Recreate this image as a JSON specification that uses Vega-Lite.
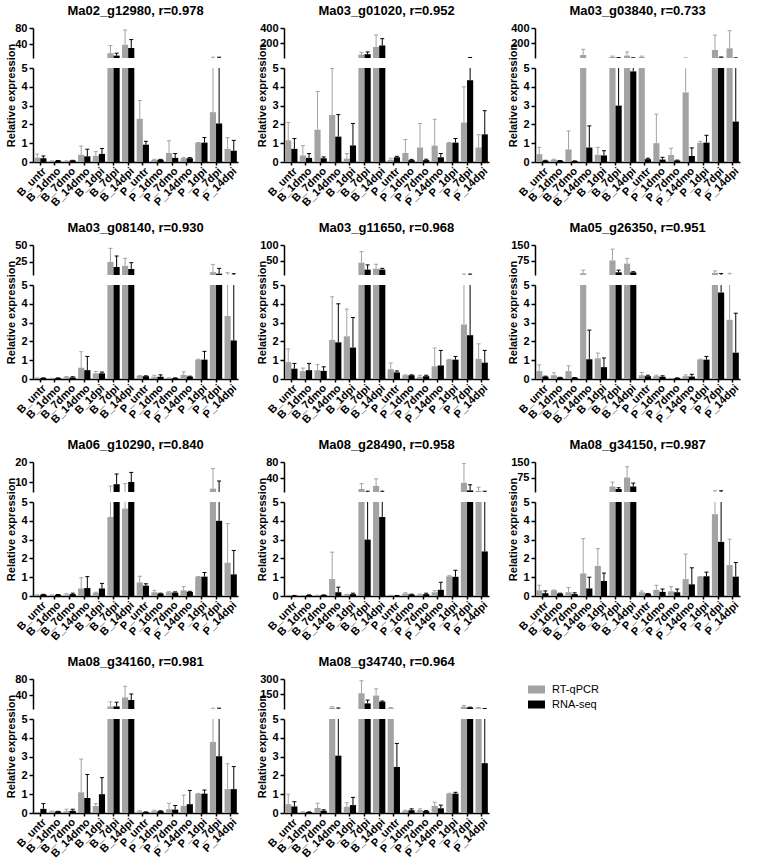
{
"$schema":"https://vega.github.io/schema/vega-lite/v6.json",
"padding":{"left":5,"top":5,"right":5,"bottom":2},
"background":"white",
"columns":3,
"spacing":{"row":14,"column":18},
"datasets":{"d":[
{"gene":"Ma02_g12980","cond":"B_untr","method":"RT-qPCR","mean":0.23,"hi":0.42},{"gene":"Ma02_g12980","cond":"B_untr","method":"RNA-seq","mean":0.2,"hi":0.32},
{"gene":"Ma02_g12980","cond":"B_1dmo","method":"RT-qPCR","mean":0.05,"hi":0.06},{"gene":"Ma02_g12980","cond":"B_1dmo","method":"RNA-seq","mean":0.07,"hi":0.08},
{"gene":"Ma02_g12980","cond":"B_7dmo","method":"RT-qPCR","mean":0.05,"hi":0.06},{"gene":"Ma02_g12980","cond":"B_7dmo","method":"RNA-seq","mean":0.08,"hi":0.09},
{"gene":"Ma02_g12980","cond":"B_14dmo","method":"RT-qPCR","mean":0.38,"hi":0.85},{"gene":"Ma02_g12980","cond":"B_14dmo","method":"RNA-seq","mean":0.3,"hi":0.68},
{"gene":"Ma02_g12980","cond":"B_1dpi","method":"RT-qPCR","mean":0.33,"hi":0.55},{"gene":"Ma02_g12980","cond":"B_1dpi","method":"RNA-seq","mean":0.43,"hi":0.72},
{"gene":"Ma02_g12980","cond":"B_7dpi","method":"RT-qPCR","mean":17,"hi":36},{"gene":"Ma02_g12980","cond":"B_7dpi","method":"RNA-seq","mean":11,"hi":17},
{"gene":"Ma02_g12980","cond":"B_14dpi","method":"RT-qPCR","mean":38,"hi":75},{"gene":"Ma02_g12980","cond":"B_14dpi","method":"RNA-seq","mean":30,"hi":51},
{"gene":"Ma02_g12980","cond":"P_untr","method":"RT-qPCR","mean":2.3,"hi":3.27},{"gene":"Ma02_g12980","cond":"P_untr","method":"RNA-seq","mean":0.92,"hi":1.1},
{"gene":"Ma02_g12980","cond":"P_1dmo","method":"RT-qPCR","mean":0.12,"hi":0.15},{"gene":"Ma02_g12980","cond":"P_1dmo","method":"RNA-seq","mean":0.12,"hi":0.14},
{"gene":"Ma02_g12980","cond":"P_7dmo","method":"RT-qPCR","mean":0.48,"hi":1.13},{"gene":"Ma02_g12980","cond":"P_7dmo","method":"RNA-seq","mean":0.22,"hi":0.45},
{"gene":"Ma02_g12980","cond":"P_14dmo","method":"RT-qPCR","mean":0.2,"hi":0.23},{"gene":"Ma02_g12980","cond":"P_14dmo","method":"RNA-seq","mean":0.2,"hi":0.23},
{"gene":"Ma02_g12980","cond":"P_1dpi","method":"RT-qPCR","mean":1.02,"hi":1.04},{"gene":"Ma02_g12980","cond":"P_1dpi","method":"RNA-seq","mean":1.03,"hi":1.3},
{"gene":"Ma02_g12980","cond":"P_7dpi","method":"RT-qPCR","mean":2.65,"hi":7},{"gene":"Ma02_g12980","cond":"P_7dpi","method":"RNA-seq","mean":2.05,"hi":7},
{"gene":"Ma02_g12980","cond":"P_14dpi","method":"RT-qPCR","mean":0.7,"hi":1.3},{"gene":"Ma02_g12980","cond":"P_14dpi","method":"RNA-seq","mean":0.6,"hi":1.15},
{"gene":"Ma03_g01020","cond":"B_untr","method":"RT-qPCR","mean":1.15,"hi":2.1},{"gene":"Ma03_g01020","cond":"B_untr","method":"RNA-seq","mean":0.7,"hi":1.25},
{"gene":"Ma03_g01020","cond":"B_1dmo","method":"RT-qPCR","mean":0.35,"hi":0.87},{"gene":"Ma03_g01020","cond":"B_1dmo","method":"RNA-seq","mean":0.22,"hi":0.45},
{"gene":"Ma03_g01020","cond":"B_7dmo","method":"RT-qPCR","mean":1.72,"hi":3.75},{"gene":"Ma03_g01020","cond":"B_7dmo","method":"RNA-seq","mean":0.2,"hi":0.27},
{"gene":"Ma03_g01020","cond":"B_14dmo","method":"RT-qPCR","mean":2.5,"hi":4.97},{"gene":"Ma03_g01020","cond":"B_14dmo","method":"RNA-seq","mean":1.35,"hi":2.52},
{"gene":"Ma03_g01020","cond":"B_1dpi","method":"RT-qPCR","mean":0.18,"hi":0.45},{"gene":"Ma03_g01020","cond":"B_1dpi","method":"RNA-seq","mean":0.88,"hi":2.05},
{"gene":"Ma03_g01020","cond":"B_7dpi","method":"RT-qPCR","mean":50,"hi":80},{"gene":"Ma03_g01020","cond":"B_7dpi","method":"RNA-seq","mean":55,"hi":85},
{"gene":"Ma03_g01020","cond":"B_14dpi","method":"RT-qPCR","mean":150,"hi":310},{"gene":"Ma03_g01020","cond":"B_14dpi","method":"RNA-seq","mean":170,"hi":260},
{"gene":"Ma03_g01020","cond":"P_untr","method":"RT-qPCR","mean":0.12,"hi":0.2},{"gene":"Ma03_g01020","cond":"P_untr","method":"RNA-seq","mean":0.25,"hi":0.3},
{"gene":"Ma03_g01020","cond":"P_1dmo","method":"RT-qPCR","mean":0.48,"hi":1.2},{"gene":"Ma03_g01020","cond":"P_1dmo","method":"RNA-seq","mean":0.1,"hi":0.14},
{"gene":"Ma03_g01020","cond":"P_7dmo","method":"RT-qPCR","mean":0.77,"hi":2.05},{"gene":"Ma03_g01020","cond":"P_7dmo","method":"RNA-seq","mean":0.1,"hi":0.15},
{"gene":"Ma03_g01020","cond":"P_14dmo","method":"RT-qPCR","mean":0.87,"hi":2.27},{"gene":"Ma03_g01020","cond":"P_14dmo","method":"RNA-seq","mean":0.25,"hi":0.45},
{"gene":"Ma03_g01020","cond":"P_1dpi","method":"RT-qPCR","mean":1.02,"hi":1.04},{"gene":"Ma03_g01020","cond":"P_1dpi","method":"RNA-seq","mean":1.03,"hi":1.25},
{"gene":"Ma03_g01020","cond":"P_7dpi","method":"RT-qPCR","mean":2.1,"hi":4.0},{"gene":"Ma03_g01020","cond":"P_7dpi","method":"RNA-seq","mean":4.35,"hi":12},
{"gene":"Ma03_g01020","cond":"P_14dpi","method":"RT-qPCR","mean":0.77,"hi":1.45},{"gene":"Ma03_g01020","cond":"P_14dpi","method":"RNA-seq","mean":1.47,"hi":2.73},
{"gene":"Ma03_g03840","cond":"B_untr","method":"RT-qPCR","mean":0.42,"hi":0.78},{"gene":"Ma03_g03840","cond":"B_untr","method":"RNA-seq","mean":0.07,"hi":0.09},
{"gene":"Ma03_g03840","cond":"B_1dmo","method":"RT-qPCR","mean":0.12,"hi":0.15},{"gene":"Ma03_g03840","cond":"B_1dmo","method":"RNA-seq","mean":0.07,"hi":0.08},
{"gene":"Ma03_g03840","cond":"B_7dmo","method":"RT-qPCR","mean":0.67,"hi":1.65},{"gene":"Ma03_g03840","cond":"B_7dmo","method":"RNA-seq","mean":0.05,"hi":0.06},
{"gene":"Ma03_g03840","cond":"B_14dmo","method":"RT-qPCR","mean":45,"hi":120},{"gene":"Ma03_g03840","cond":"B_14dmo","method":"RNA-seq","mean":0.77,"hi":1.92},
{"gene":"Ma03_g03840","cond":"B_1dpi","method":"RT-qPCR","mean":0.38,"hi":0.78},{"gene":"Ma03_g03840","cond":"B_1dpi","method":"RNA-seq","mean":0.35,"hi":0.6},
{"gene":"Ma03_g03840","cond":"B_7dpi","method":"RT-qPCR","mean":18,"hi":30},{"gene":"Ma03_g03840","cond":"B_7dpi","method":"RNA-seq","mean":3.0,"hi":10},
{"gene":"Ma03_g03840","cond":"B_14dpi","method":"RT-qPCR","mean":36,"hi":85},{"gene":"Ma03_g03840","cond":"B_14dpi","method":"RNA-seq","mean":4.82,"hi":8},
{"gene":"Ma03_g03840","cond":"P_untr","method":"RT-qPCR","mean":18,"hi":30},{"gene":"Ma03_g03840","cond":"P_untr","method":"RNA-seq","mean":0.15,"hi":0.2},
{"gene":"Ma03_g03840","cond":"P_1dmo","method":"RT-qPCR","mean":1.0,"hi":2.55},{"gene":"Ma03_g03840","cond":"P_1dmo","method":"RNA-seq","mean":0.13,"hi":0.25},
{"gene":"Ma03_g03840","cond":"P_7dmo","method":"RT-qPCR","mean":0.37,"hi":0.73},{"gene":"Ma03_g03840","cond":"P_7dmo","method":"RNA-seq","mean":0.08,"hi":0.1},
{"gene":"Ma03_g03840","cond":"P_14dmo","method":"RT-qPCR","mean":3.7,"hi":8},{"gene":"Ma03_g03840","cond":"P_14dmo","method":"RNA-seq","mean":0.32,"hi":0.75},
{"gene":"Ma03_g03840","cond":"P_1dpi","method":"RT-qPCR","mean":1.02,"hi":1.1},{"gene":"Ma03_g03840","cond":"P_1dpi","method":"RNA-seq","mean":1.03,"hi":1.42},
{"gene":"Ma03_g03840","cond":"P_7dpi","method":"RT-qPCR","mean":111,"hi":307},{"gene":"Ma03_g03840","cond":"P_7dpi","method":"RNA-seq","mean":9,"hi":18},
{"gene":"Ma03_g03840","cond":"P_14dpi","method":"RT-qPCR","mean":133,"hi":364},{"gene":"Ma03_g03840","cond":"P_14dpi","method":"RNA-seq","mean":2.15,"hi":7},
{"gene":"Ma03_g08140","cond":"B_untr","method":"RT-qPCR","mean":0.05,"hi":0.06},{"gene":"Ma03_g08140","cond":"B_untr","method":"RNA-seq","mean":0.05,"hi":0.06},
{"gene":"Ma03_g08140","cond":"B_1dmo","method":"RT-qPCR","mean":0.03,"hi":0.04},{"gene":"Ma03_g08140","cond":"B_1dmo","method":"RNA-seq","mean":0.05,"hi":0.06},
{"gene":"Ma03_g08140","cond":"B_7dmo","method":"RT-qPCR","mean":0.1,"hi":0.13},{"gene":"Ma03_g08140","cond":"B_7dmo","method":"RNA-seq","mean":0.08,"hi":0.12},
{"gene":"Ma03_g08140","cond":"B_14dmo","method":"RT-qPCR","mean":0.6,"hi":1.45},{"gene":"Ma03_g08140","cond":"B_14dmo","method":"RNA-seq","mean":0.47,"hi":1.2},
{"gene":"Ma03_g08140","cond":"B_1dpi","method":"RT-qPCR","mean":0.3,"hi":0.4},{"gene":"Ma03_g08140","cond":"B_1dpi","method":"RNA-seq","mean":0.3,"hi":0.37},
{"gene":"Ma03_g08140","cond":"B_7dpi","method":"RT-qPCR","mean":24.5,"hi":45},{"gene":"Ma03_g08140","cond":"B_7dpi","method":"RNA-seq","mean":17,"hi":33.5},
{"gene":"Ma03_g08140","cond":"B_14dpi","method":"RT-qPCR","mean":18.7,"hi":30},{"gene":"Ma03_g08140","cond":"B_14dpi","method":"RNA-seq","mean":14,"hi":23.5},
{"gene":"Ma03_g08140","cond":"P_untr","method":"RT-qPCR","mean":0.17,"hi":0.19},{"gene":"Ma03_g08140","cond":"P_untr","method":"RNA-seq","mean":0.15,"hi":0.17},
{"gene":"Ma03_g08140","cond":"P_1dmo","method":"RT-qPCR","mean":0.12,"hi":0.2},{"gene":"Ma03_g08140","cond":"P_1dmo","method":"RNA-seq","mean":0.12,"hi":0.22},
{"gene":"Ma03_g08140","cond":"P_7dmo","method":"RT-qPCR","mean":0.05,"hi":0.06},{"gene":"Ma03_g08140","cond":"P_7dmo","method":"RNA-seq","mean":0.05,"hi":0.06},
{"gene":"Ma03_g08140","cond":"P_14dmo","method":"RT-qPCR","mean":0.22,"hi":0.38},{"gene":"Ma03_g08140","cond":"P_14dmo","method":"RNA-seq","mean":0.13,"hi":0.15},
{"gene":"Ma03_g08140","cond":"P_1dpi","method":"RT-qPCR","mean":1.03,"hi":1.05},{"gene":"Ma03_g08140","cond":"P_1dpi","method":"RNA-seq","mean":1.03,"hi":1.47},
{"gene":"Ma03_g08140","cond":"P_7dpi","method":"RT-qPCR","mean":9.3,"hi":20.9},{"gene":"Ma03_g08140","cond":"P_7dpi","method":"RNA-seq","mean":7,"hi":15},
{"gene":"Ma03_g08140","cond":"P_14dpi","method":"RT-qPCR","mean":3.35,"hi":8.4},{"gene":"Ma03_g08140","cond":"P_14dpi","method":"RNA-seq","mean":2.05,"hi":7},
{"gene":"Ma03_g11650","cond":"B_untr","method":"RT-qPCR","mean":0.9,"hi":1.6},{"gene":"Ma03_g11650","cond":"B_untr","method":"RNA-seq","mean":0.55,"hi":0.83},
{"gene":"Ma03_g11650","cond":"B_1dmo","method":"RT-qPCR","mean":0.42,"hi":0.58},{"gene":"Ma03_g11650","cond":"B_1dmo","method":"RNA-seq","mean":0.47,"hi":0.83},
{"gene":"Ma03_g11650","cond":"B_7dmo","method":"RT-qPCR","mean":0.47,"hi":0.78},{"gene":"Ma03_g11650","cond":"B_7dmo","method":"RNA-seq","mean":0.43,"hi":0.65},
{"gene":"Ma03_g11650","cond":"B_14dmo","method":"RT-qPCR","mean":2.08,"hi":4.37},{"gene":"Ma03_g11650","cond":"B_14dmo","method":"RNA-seq","mean":1.95,"hi":4.0},
{"gene":"Ma03_g11650","cond":"B_1dpi","method":"RT-qPCR","mean":2.27,"hi":3.72},{"gene":"Ma03_g11650","cond":"B_1dpi","method":"RNA-seq","mean":1.67,"hi":3.27},
{"gene":"Ma03_g11650","cond":"B_7dpi","method":"RT-qPCR","mean":44,"hi":79},{"gene":"Ma03_g11650","cond":"B_7dpi","method":"RNA-seq","mean":22,"hi":37},
{"gene":"Ma03_g11650","cond":"B_14dpi","method":"RT-qPCR","mean":25,"hi":39},{"gene":"Ma03_g11650","cond":"B_14dpi","method":"RNA-seq","mean":22,"hi":26},
{"gene":"Ma03_g11650","cond":"P_untr","method":"RT-qPCR","mean":0.52,"hi":0.85},{"gene":"Ma03_g11650","cond":"P_untr","method":"RNA-seq","mean":0.35,"hi":0.43},
{"gene":"Ma03_g11650","cond":"P_1dmo","method":"RT-qPCR","mean":0.2,"hi":0.22},{"gene":"Ma03_g11650","cond":"P_1dmo","method":"RNA-seq","mean":0.2,"hi":0.22},
{"gene":"Ma03_g11650","cond":"P_7dmo","method":"RT-qPCR","mean":0.12,"hi":0.2},{"gene":"Ma03_g11650","cond":"P_7dmo","method":"RNA-seq","mean":0.15,"hi":0.2},
{"gene":"Ma03_g11650","cond":"P_14dmo","method":"RT-qPCR","mean":0.68,"hi":1.65},{"gene":"Ma03_g11650","cond":"P_14dmo","method":"RNA-seq","mean":0.72,"hi":1.52},
{"gene":"Ma03_g11650","cond":"P_1dpi","method":"RT-qPCR","mean":1.03,"hi":1.05},{"gene":"Ma03_g11650","cond":"P_1dpi","method":"RNA-seq","mean":1.03,"hi":1.2},
{"gene":"Ma03_g11650","cond":"P_7dpi","method":"RT-qPCR","mean":2.9,"hi":8},{"gene":"Ma03_g11650","cond":"P_7dpi","method":"RNA-seq","mean":2.33,"hi":8},
{"gene":"Ma03_g11650","cond":"P_14dpi","method":"RT-qPCR","mean":1.07,"hi":1.87},{"gene":"Ma03_g11650","cond":"P_14dpi","method":"RNA-seq","mean":0.87,"hi":1.52},
{"gene":"Ma05_g26350","cond":"B_untr","method":"RT-qPCR","mean":0.42,"hi":0.75},{"gene":"Ma05_g26350","cond":"B_untr","method":"RNA-seq","mean":0.13,"hi":0.15},
{"gene":"Ma05_g26350","cond":"B_1dmo","method":"RT-qPCR","mean":0.2,"hi":0.33},{"gene":"Ma05_g26350","cond":"B_1dmo","method":"RNA-seq","mean":0.08,"hi":0.09},
{"gene":"Ma05_g26350","cond":"B_7dmo","method":"RT-qPCR","mean":0.42,"hi":0.7},{"gene":"Ma05_g26350","cond":"B_7dmo","method":"RNA-seq","mean":0.07,"hi":0.08},
{"gene":"Ma05_g26350","cond":"B_14dmo","method":"RT-qPCR","mean":13.5,"hi":28.5},{"gene":"Ma05_g26350","cond":"B_14dmo","method":"RNA-seq","mean":1.05,"hi":2.6},
{"gene":"Ma05_g26350","cond":"B_1dpi","method":"RT-qPCR","mean":1.1,"hi":1.38},{"gene":"Ma05_g26350","cond":"B_1dpi","method":"RNA-seq","mean":0.63,"hi":1.12},
{"gene":"Ma05_g26350","cond":"B_7dpi","method":"RT-qPCR","mean":75,"hi":130},{"gene":"Ma05_g26350","cond":"B_7dpi","method":"RNA-seq","mean":18,"hi":28.5},
{"gene":"Ma05_g26350","cond":"B_14dpi","method":"RT-qPCR","mean":60,"hi":85},{"gene":"Ma05_g26350","cond":"B_14dpi","method":"RNA-seq","mean":18,"hi":21},
{"gene":"Ma05_g26350","cond":"P_untr","method":"RT-qPCR","mean":0.2,"hi":0.35},{"gene":"Ma05_g26350","cond":"P_untr","method":"RNA-seq","mean":0.15,"hi":0.2},
{"gene":"Ma05_g26350","cond":"P_1dmo","method":"RT-qPCR","mean":0.15,"hi":0.2},{"gene":"Ma05_g26350","cond":"P_1dmo","method":"RNA-seq","mean":0.12,"hi":0.17},
{"gene":"Ma05_g26350","cond":"P_7dmo","method":"RT-qPCR","mean":0.02,"hi":0.03},{"gene":"Ma05_g26350","cond":"P_7dmo","method":"RNA-seq","mean":0.05,"hi":0.06},
{"gene":"Ma05_g26350","cond":"P_14dmo","method":"RT-qPCR","mean":0.15,"hi":0.22},{"gene":"Ma05_g26350","cond":"P_14dmo","method":"RNA-seq","mean":0.13,"hi":0.25},
{"gene":"Ma05_g26350","cond":"P_1dpi","method":"RT-qPCR","mean":1.03,"hi":1.05},{"gene":"Ma05_g26350","cond":"P_1dpi","method":"RNA-seq","mean":1.03,"hi":1.2},
{"gene":"Ma05_g26350","cond":"P_7dpi","method":"RT-qPCR","mean":15,"hi":25},{"gene":"Ma05_g26350","cond":"P_7dpi","method":"RNA-seq","mean":4.6,"hi":12},
{"gene":"Ma05_g26350","cond":"P_14dpi","method":"RT-qPCR","mean":3.15,"hi":13},{"gene":"Ma05_g26350","cond":"P_14dpi","method":"RNA-seq","mean":1.4,"hi":3.5},
{"gene":"Ma06_g10290","cond":"B_untr","method":"RT-qPCR","mean":0.05,"hi":0.06},{"gene":"Ma06_g10290","cond":"B_untr","method":"RNA-seq","mean":0.08,"hi":0.09},
{"gene":"Ma06_g10290","cond":"B_1dmo","method":"RT-qPCR","mean":0.05,"hi":0.06},{"gene":"Ma06_g10290","cond":"B_1dmo","method":"RNA-seq","mean":0.07,"hi":0.08},
{"gene":"Ma06_g10290","cond":"B_7dmo","method":"RT-qPCR","mean":0.08,"hi":0.12},{"gene":"Ma06_g10290","cond":"B_7dmo","method":"RNA-seq","mean":0.1,"hi":0.15},
{"gene":"Ma06_g10290","cond":"B_14dmo","method":"RT-qPCR","mean":0.4,"hi":0.97},{"gene":"Ma06_g10290","cond":"B_14dmo","method":"RNA-seq","mean":0.42,"hi":1.03},
{"gene":"Ma06_g10290","cond":"B_1dpi","method":"RT-qPCR","mean":0.17,"hi":0.2},{"gene":"Ma06_g10290","cond":"B_1dpi","method":"RNA-seq","mean":0.4,"hi":0.67},
{"gene":"Ma06_g10290","cond":"B_7dpi","method":"RT-qPCR","mean":4.2,"hi":8},{"gene":"Ma06_g10290","cond":"B_7dpi","method":"RNA-seq","mean":8.9,"hi":14},
{"gene":"Ma06_g10290","cond":"B_14dpi","method":"RT-qPCR","mean":4.65,"hi":9.2},{"gene":"Ma06_g10290","cond":"B_14dpi","method":"RNA-seq","mean":10,"hi":14.8},
{"gene":"Ma06_g10290","cond":"P_untr","method":"RT-qPCR","mean":0.72,"hi":1.05},{"gene":"Ma06_g10290","cond":"P_untr","method":"RNA-seq","mean":0.55,"hi":0.65},
{"gene":"Ma06_g10290","cond":"P_1dmo","method":"RT-qPCR","mean":0.2,"hi":0.3},{"gene":"Ma06_g10290","cond":"P_1dmo","method":"RNA-seq","mean":0.13,"hi":0.15},
{"gene":"Ma06_g10290","cond":"P_7dmo","method":"RT-qPCR","mean":0.2,"hi":0.23},{"gene":"Ma06_g10290","cond":"P_7dmo","method":"RNA-seq","mean":0.18,"hi":0.22},
{"gene":"Ma06_g10290","cond":"P_14dmo","method":"RT-qPCR","mean":0.3,"hi":0.5},{"gene":"Ma06_g10290","cond":"P_14dmo","method":"RNA-seq","mean":0.22,"hi":0.25},
{"gene":"Ma06_g10290","cond":"P_1dpi","method":"RT-qPCR","mean":1.02,"hi":1.04},{"gene":"Ma06_g10290","cond":"P_1dpi","method":"RNA-seq","mean":1.03,"hi":1.25},
{"gene":"Ma06_g10290","cond":"P_7dpi","method":"RT-qPCR","mean":6.7,"hi":16.7},{"gene":"Ma06_g10290","cond":"P_7dpi","method":"RNA-seq","mean":4.0,"hi":10.5},
{"gene":"Ma06_g10290","cond":"P_14dpi","method":"RT-qPCR","mean":1.77,"hi":3.85},{"gene":"Ma06_g10290","cond":"P_14dpi","method":"RNA-seq","mean":1.15,"hi":2.42},
{"gene":"Ma08_g28490","cond":"B_untr","method":"RT-qPCR","mean":0.02,"hi":0.03},{"gene":"Ma08_g28490","cond":"B_untr","method":"RNA-seq","mean":0.02,"hi":0.03},
{"gene":"Ma08_g28490","cond":"B_1dmo","method":"RT-qPCR","mean":0.02,"hi":0.03},{"gene":"Ma08_g28490","cond":"B_1dmo","method":"RNA-seq","mean":0.05,"hi":0.06},
{"gene":"Ma08_g28490","cond":"B_7dmo","method":"RT-qPCR","mean":0.03,"hi":0.04},{"gene":"Ma08_g28490","cond":"B_7dmo","method":"RNA-seq","mean":0.05,"hi":0.06},
{"gene":"Ma08_g28490","cond":"B_14dmo","method":"RT-qPCR","mean":0.9,"hi":2.33},{"gene":"Ma08_g28490","cond":"B_14dmo","method":"RNA-seq","mean":0.2,"hi":0.47},
{"gene":"Ma08_g28490","cond":"B_1dpi","method":"RT-qPCR","mean":0.08,"hi":0.09},{"gene":"Ma08_g28490","cond":"B_1dpi","method":"RNA-seq","mean":0.1,"hi":0.15},
{"gene":"Ma08_g28490","cond":"B_7dpi","method":"RT-qPCR","mean":12.5,"hi":26},{"gene":"Ma08_g28490","cond":"B_7dpi","method":"RNA-seq","mean":3.0,"hi":7},
{"gene":"Ma08_g28490","cond":"B_14dpi","method":"RT-qPCR","mean":20,"hi":38},{"gene":"Ma08_g28490","cond":"B_14dpi","method":"RNA-seq","mean":4.2,"hi":7},
{"gene":"Ma08_g28490","cond":"P_untr","method":"RT-qPCR","mean":0.03,"hi":0.04},{"gene":"Ma08_g28490","cond":"P_untr","method":"RNA-seq","mean":0.02,"hi":0.03},
{"gene":"Ma08_g28490","cond":"P_1dmo","method":"RT-qPCR","mean":0.13,"hi":0.17},{"gene":"Ma08_g28490","cond":"P_1dmo","method":"RNA-seq","mean":0.08,"hi":0.1},
{"gene":"Ma08_g28490","cond":"P_7dmo","method":"RT-qPCR","mean":0.08,"hi":0.1},{"gene":"Ma08_g28490","cond":"P_7dmo","method":"RNA-seq","mean":0.1,"hi":0.15},
{"gene":"Ma08_g28490","cond":"P_14dmo","method":"RT-qPCR","mean":0.2,"hi":0.28},{"gene":"Ma08_g28490","cond":"P_14dmo","method":"RNA-seq","mean":0.33,"hi":0.73},
{"gene":"Ma08_g28490","cond":"P_1dpi","method":"RT-qPCR","mean":1.05,"hi":1.08},{"gene":"Ma08_g28490","cond":"P_1dpi","method":"RNA-seq","mean":1.02,"hi":1.37},
{"gene":"Ma08_g28490","cond":"P_7dpi","method":"RT-qPCR","mean":28,"hi":76},{"gene":"Ma08_g28490","cond":"P_7dpi","method":"RNA-seq","mean":9,"hi":23},
{"gene":"Ma08_g28490","cond":"P_14dpi","method":"RT-qPCR","mean":7.5,"hi":17},{"gene":"Ma08_g28490","cond":"P_14dpi","method":"RNA-seq","mean":2.37,"hi":7},
{"gene":"Ma08_g34150","cond":"B_untr","method":"RT-qPCR","mean":0.3,"hi":0.57},{"gene":"Ma08_g34150","cond":"B_untr","method":"RNA-seq","mean":0.15,"hi":0.27},
{"gene":"Ma08_g34150","cond":"B_1dmo","method":"RT-qPCR","mean":0.3,"hi":0.32},{"gene":"Ma08_g34150","cond":"B_1dmo","method":"RNA-seq","mean":0.13,"hi":0.15},
{"gene":"Ma08_g34150","cond":"B_7dmo","method":"RT-qPCR","mean":0.2,"hi":0.45},{"gene":"Ma08_g34150","cond":"B_7dmo","method":"RNA-seq","mean":0.1,"hi":0.17},
{"gene":"Ma08_g34150","cond":"B_14dmo","method":"RT-qPCR","mean":1.2,"hi":3.05},{"gene":"Ma08_g34150","cond":"B_14dmo","method":"RNA-seq","mean":0.4,"hi":1.0},
{"gene":"Ma08_g34150","cond":"B_1dpi","method":"RT-qPCR","mean":1.6,"hi":2.52},{"gene":"Ma08_g34150","cond":"B_1dpi","method":"RNA-seq","mean":0.8,"hi":1.22},
{"gene":"Ma08_g34150","cond":"B_7dpi","method":"RT-qPCR","mean":31.5,"hi":52.5},{"gene":"Ma08_g34150","cond":"B_7dpi","method":"RNA-seq","mean":19.5,"hi":25.5},
{"gene":"Ma08_g34150","cond":"B_14dpi","method":"RT-qPCR","mean":75,"hi":127},{"gene":"Ma08_g34150","cond":"B_14dpi","method":"RNA-seq","mean":31.5,"hi":48},
{"gene":"Ma08_g34150","cond":"P_untr","method":"RT-qPCR","mean":0.2,"hi":0.27},{"gene":"Ma08_g34150","cond":"P_untr","method":"RNA-seq","mean":0.12,"hi":0.13},
{"gene":"Ma08_g34150","cond":"P_1dmo","method":"RT-qPCR","mean":0.33,"hi":0.57},{"gene":"Ma08_g34150","cond":"P_1dmo","method":"RNA-seq","mean":0.22,"hi":0.37},
{"gene":"Ma08_g34150","cond":"P_7dmo","method":"RT-qPCR","mean":0.25,"hi":0.5},{"gene":"Ma08_g34150","cond":"P_7dmo","method":"RNA-seq","mean":0.2,"hi":0.37},
{"gene":"Ma08_g34150","cond":"P_14dmo","method":"RT-qPCR","mean":0.9,"hi":2.23},{"gene":"Ma08_g34150","cond":"P_14dmo","method":"RNA-seq","mean":0.62,"hi":1.5},
{"gene":"Ma08_g34150","cond":"P_1dpi","method":"RT-qPCR","mean":1.02,"hi":1.04},{"gene":"Ma08_g34150","cond":"P_1dpi","method":"RNA-seq","mean":1.05,"hi":1.27},
{"gene":"Ma08_g34150","cond":"P_7dpi","method":"RT-qPCR","mean":4.35,"hi":11},{"gene":"Ma08_g34150","cond":"P_7dpi","method":"RNA-seq","mean":2.88,"hi":11},
{"gene":"Ma08_g34150","cond":"P_14dpi","method":"RT-qPCR","mean":1.65,"hi":3.02},{"gene":"Ma08_g34150","cond":"P_14dpi","method":"RNA-seq","mean":1.03,"hi":1.78},
{"gene":"Ma08_g34160","cond":"B_untr","method":"RT-qPCR","mean":0.02,"hi":0.03},{"gene":"Ma08_g34160","cond":"B_untr","method":"RNA-seq","mean":0.22,"hi":0.5},
{"gene":"Ma08_g34160","cond":"B_1dmo","method":"RT-qPCR","mean":0.08,"hi":0.1},{"gene":"Ma08_g34160","cond":"B_1dmo","method":"RNA-seq","mean":0.08,"hi":0.09},
{"gene":"Ma08_g34160","cond":"B_7dmo","method":"RT-qPCR","mean":0.1,"hi":0.2},{"gene":"Ma08_g34160","cond":"B_7dmo","method":"RNA-seq","mean":0.12,"hi":0.2},
{"gene":"Ma08_g34160","cond":"B_14dmo","method":"RT-qPCR","mean":1.1,"hi":2.87},{"gene":"Ma08_g34160","cond":"B_14dmo","method":"RNA-seq","mean":0.8,"hi":2.05},
{"gene":"Ma08_g34160","cond":"B_1dpi","method":"RT-qPCR","mean":0.37,"hi":0.5},{"gene":"Ma08_g34160","cond":"B_1dpi","method":"RNA-seq","mean":1.0,"hi":1.88},
{"gene":"Ma08_g34160","cond":"B_7dpi","method":"RT-qPCR","mean":11.5,"hi":23},{"gene":"Ma08_g34160","cond":"B_7dpi","method":"RNA-seq","mean":11.5,"hi":22},
{"gene":"Ma08_g34160","cond":"B_14dpi","method":"RT-qPCR","mean":34,"hi":62},{"gene":"Ma08_g34160","cond":"B_14dpi","method":"RNA-seq","mean":27.5,"hi":42.5},
{"gene":"Ma08_g34160","cond":"P_untr","method":"RT-qPCR","mean":0.08,"hi":0.12},{"gene":"Ma08_g34160","cond":"P_untr","method":"RNA-seq","mean":0.05,"hi":0.06},
{"gene":"Ma08_g34160","cond":"P_1dmo","method":"RT-qPCR","mean":0.1,"hi":0.15},{"gene":"Ma08_g34160","cond":"P_1dmo","method":"RNA-seq","mean":0.1,"hi":0.12},
{"gene":"Ma08_g34160","cond":"P_7dmo","method":"RT-qPCR","mean":0.2,"hi":0.52},{"gene":"Ma08_g34160","cond":"P_7dmo","method":"RNA-seq","mean":0.18,"hi":0.4},
{"gene":"Ma08_g34160","cond":"P_14dmo","method":"RT-qPCR","mean":0.38,"hi":0.95},{"gene":"Ma08_g34160","cond":"P_14dmo","method":"RNA-seq","mean":0.47,"hi":1.2},
{"gene":"Ma08_g34160","cond":"P_1dpi","method":"RT-qPCR","mean":1.02,"hi":1.04},{"gene":"Ma08_g34160","cond":"P_1dpi","method":"RNA-seq","mean":1.03,"hi":1.22},
{"gene":"Ma08_g34160","cond":"P_7dpi","method":"RT-qPCR","mean":3.78,"hi":7},{"gene":"Ma08_g34160","cond":"P_7dpi","method":"RNA-seq","mean":3.02,"hi":7},
{"gene":"Ma08_g34160","cond":"P_14dpi","method":"RT-qPCR","mean":1.27,"hi":2.62},{"gene":"Ma08_g34160","cond":"P_14dpi","method":"RNA-seq","mean":1.27,"hi":2.47},
{"gene":"Ma08_g34740","cond":"B_untr","method":"RT-qPCR","mean":0.47,"hi":1.0},{"gene":"Ma08_g34740","cond":"B_untr","method":"RNA-seq","mean":0.35,"hi":0.6},
{"gene":"Ma08_g34740","cond":"B_1dmo","method":"RT-qPCR","mean":0.05,"hi":0.06},{"gene":"Ma08_g34740","cond":"B_1dmo","method":"RNA-seq","mean":0.05,"hi":0.06},
{"gene":"Ma08_g34740","cond":"B_7dmo","method":"RT-qPCR","mean":0.27,"hi":0.52},{"gene":"Ma08_g34740","cond":"B_7dmo","method":"RNA-seq","mean":0.12,"hi":0.17},
{"gene":"Ma08_g34740","cond":"B_14dmo","method":"RT-qPCR","mean":17,"hi":27},{"gene":"Ma08_g34740","cond":"B_14dmo","method":"RNA-seq","mean":3.05,"hi":15},
{"gene":"Ma08_g34740","cond":"B_1dpi","method":"RT-qPCR","mean":0.33,"hi":0.55},{"gene":"Ma08_g34740","cond":"B_1dpi","method":"RNA-seq","mean":0.42,"hi":0.83},
{"gene":"Ma08_g34740","cond":"B_7dpi","method":"RT-qPCR","mean":160,"hi":283},{"gene":"Ma08_g34740","cond":"B_7dpi","method":"RNA-seq","mean":60,"hi":93},
{"gene":"Ma08_g34740","cond":"B_14dpi","method":"RT-qPCR","mean":137,"hi":203},{"gene":"Ma08_g34740","cond":"B_14dpi","method":"RNA-seq","mean":77,"hi":83},
{"gene":"Ma08_g34740","cond":"P_untr","method":"RT-qPCR","mean":13,"hi":20},{"gene":"Ma08_g34740","cond":"P_untr","method":"RNA-seq","mean":2.45,"hi":3.7},
{"gene":"Ma08_g34740","cond":"P_1dmo","method":"RT-qPCR","mean":0.12,"hi":0.15},{"gene":"Ma08_g34740","cond":"P_1dmo","method":"RNA-seq","mean":0.15,"hi":0.22},
{"gene":"Ma08_g34740","cond":"P_7dmo","method":"RT-qPCR","mean":0.15,"hi":0.22},{"gene":"Ma08_g34740","cond":"P_7dmo","method":"RNA-seq","mean":0.1,"hi":0.13},
{"gene":"Ma08_g34740","cond":"P_14dmo","method":"RT-qPCR","mean":0.38,"hi":0.57},{"gene":"Ma08_g34740","cond":"P_14dmo","method":"RNA-seq","mean":0.25,"hi":0.42},
{"gene":"Ma08_g34740","cond":"P_1dpi","method":"RT-qPCR","mean":1.03,"hi":1.05},{"gene":"Ma08_g34740","cond":"P_1dpi","method":"RNA-seq","mean":1.03,"hi":1.1},
{"gene":"Ma08_g34740","cond":"P_7dpi","method":"RT-qPCR","mean":27,"hi":40},{"gene":"Ma08_g34740","cond":"P_7dpi","method":"RNA-seq","mean":20,"hi":23},
{"gene":"Ma08_g34740","cond":"P_14dpi","method":"RT-qPCR","mean":13,"hi":20},{"gene":"Ma08_g34740","cond":"P_14dpi","method":"RNA-seq","mean":2.65,"hi":10}
]},
"concat":[
{"vconcat":[
 {"title":"Ma02_g12980, r=0.978","width":205,"height":30,"data":{"name":"d"},"transform":[{"filter":"datum.gene==='Ma02_g12980'"}],
  "encoding":{"x":{"field":"cond","type":"nominal","axis":null,"scale":{"domain":["B_untr","B_1dmo","B_7dmo","B_14dmo","B_1dpi","B_7dpi","B_14dpi","P_untr","P_1dmo","P_7dmo","P_14dmo","P_1dpi","P_7dpi","P_14dpi"],"paddingInner":0.16,"paddingOuter":0.08}},"xOffset":{"field":"method","type":"nominal","scale":{"domain":["RT-qPCR","RNA-seq"]}},"color":{"field":"method","type":"nominal","scale":{"domain":["RT-qPCR","RNA-seq"],"range":["#a3a3a3","#000000"]},"legend":{"orient":"none","legendX":495,"legendY":653,"title":null,"symbolType":"M-1,-0.47H1V0.47H-1Z","symbolSize":289,"labelFontSize":11,"rowPadding":1,"symbolStrokeWidth":0,"symbolOpacity":1,"labelOffset":7}}},
  "layer":[
   {"transform":[{"filter":"datum.mean>5"}],"mark":{"type":"bar","clip":true},"encoding":{"y":{"field":"mean","type":"quantitative","scale":{"domain":[5,80],"nice":false,"zero":false},"axis":{"values":[40,80],"title":null}},"y2":{"datum":0}}},
   {"transform":[{"filter":"datum.hi>5"}],"mark":{"type":"rule","clip":true},"encoding":{"y":{"field":"mean","type":"quantitative"},"y2":{"field":"hi"}}},
   {"transform":[{"filter":"datum.hi>5"}],"mark":{"type":"tick","clip":true,"thickness":1,"size":4,"opacity":1},"encoding":{"y":{"field":"hi","type":"quantitative"}}}]},
 {"width":205,"height":94,"data":{"name":"d"},"transform":[{"filter":"datum.gene==='Ma02_g12980'"}],
  "encoding":{"x":{"field":"cond","type":"nominal","axis":{"title":null,"labelAngle":-45},"scale":{"domain":["B_untr","B_1dmo","B_7dmo","B_14dmo","B_1dpi","B_7dpi","B_14dpi","P_untr","P_1dmo","P_7dmo","P_14dmo","P_1dpi","P_7dpi","P_14dpi"],"paddingInner":0.16,"paddingOuter":0.08}},"xOffset":{"field":"method","type":"nominal","scale":{"domain":["RT-qPCR","RNA-seq"]}},"color":{"field":"method","type":"nominal","scale":{"domain":["RT-qPCR","RNA-seq"],"range":["#a3a3a3","#000000"]}}},
  "layer":[
   {"mark":{"type":"bar","clip":true},"encoding":{"y":{"field":"mean","type":"quantitative","scale":{"domain":[0,5],"nice":false},"axis":{"values":[0,1,2,3,4,5],"tickCount":6,"labelOverlap":false,"title":"Relative expression","titleY":27}},"y2":{"datum":0}}},
   {"mark":{"type":"rule","clip":true},"encoding":{"y":{"field":"mean","type":"quantitative","axis":{"values":[0,1,2,3,4,5],"tickCount":6,"labelOverlap":false,"title":"Relative expression","titleY":27}},"y2":{"field":"hi"}}},
   {"mark":{"type":"tick","clip":true,"thickness":1,"size":4,"opacity":1},"encoding":{"y":{"field":"hi","type":"quantitative","axis":{"values":[0,1,2,3,4,5],"tickCount":6,"labelOverlap":false,"title":"Relative expression","titleY":27}}}}]}
 ],"spacing":10,"bounds":"flush"},
{"vconcat":[
 {"title":"Ma03_g01020, r=0.952","width":205,"height":30,"data":{"name":"d"},"transform":[{"filter":"datum.gene==='Ma03_g01020'"}],
  "encoding":{"x":{"field":"cond","type":"nominal","axis":null,"scale":{"domain":["B_untr","B_1dmo","B_7dmo","B_14dmo","B_1dpi","B_7dpi","B_14dpi","P_untr","P_1dmo","P_7dmo","P_14dmo","P_1dpi","P_7dpi","P_14dpi"],"paddingInner":0.16,"paddingOuter":0.08}},"xOffset":{"field":"method","type":"nominal","scale":{"domain":["RT-qPCR","RNA-seq"]}},"color":{"field":"method","type":"nominal","scale":{"domain":["RT-qPCR","RNA-seq"],"range":["#a3a3a3","#000000"]}}},
  "layer":[
   {"transform":[{"filter":"datum.mean>5"}],"mark":{"type":"bar","clip":true},"encoding":{"y":{"field":"mean","type":"quantitative","scale":{"domain":[5,400],"nice":false,"zero":false},"axis":{"values":[200,400],"title":null}},"y2":{"datum":0}}},
   {"transform":[{"filter":"datum.hi>5"}],"mark":{"type":"rule","clip":true},"encoding":{"y":{"field":"mean","type":"quantitative"},"y2":{"field":"hi"}}},
   {"transform":[{"filter":"datum.hi>5"}],"mark":{"type":"tick","clip":true,"thickness":1,"size":4,"opacity":1},"encoding":{"y":{"field":"hi","type":"quantitative"}}}]},
 {"width":205,"height":94,"data":{"name":"d"},"transform":[{"filter":"datum.gene==='Ma03_g01020'"}],
  "encoding":{"x":{"field":"cond","type":"nominal","axis":{"title":null,"labelAngle":-45},"scale":{"domain":["B_untr","B_1dmo","B_7dmo","B_14dmo","B_1dpi","B_7dpi","B_14dpi","P_untr","P_1dmo","P_7dmo","P_14dmo","P_1dpi","P_7dpi","P_14dpi"],"paddingInner":0.16,"paddingOuter":0.08}},"xOffset":{"field":"method","type":"nominal","scale":{"domain":["RT-qPCR","RNA-seq"]}},"color":{"field":"method","type":"nominal","scale":{"domain":["RT-qPCR","RNA-seq"],"range":["#a3a3a3","#000000"]}}},
  "layer":[
   {"mark":{"type":"bar","clip":true},"encoding":{"y":{"field":"mean","type":"quantitative","scale":{"domain":[0,5],"nice":false},"axis":{"values":[0,1,2,3,4,5],"tickCount":6,"labelOverlap":false,"title":"Relative expression","titleY":27}},"y2":{"datum":0}}},
   {"mark":{"type":"rule","clip":true},"encoding":{"y":{"field":"mean","type":"quantitative","axis":{"values":[0,1,2,3,4,5],"tickCount":6,"labelOverlap":false,"title":"Relative expression","titleY":27}},"y2":{"field":"hi"}}},
   {"mark":{"type":"tick","clip":true,"thickness":1,"size":4,"opacity":1},"encoding":{"y":{"field":"hi","type":"quantitative","axis":{"values":[0,1,2,3,4,5],"tickCount":6,"labelOverlap":false,"title":"Relative expression","titleY":27}}}}]}
 ],"spacing":10,"bounds":"flush"},
{"vconcat":[
 {"title":"Ma03_g03840, r=0.733","width":205,"height":30,"data":{"name":"d"},"transform":[{"filter":"datum.gene==='Ma03_g03840'"}],
  "encoding":{"x":{"field":"cond","type":"nominal","axis":null,"scale":{"domain":["B_untr","B_1dmo","B_7dmo","B_14dmo","B_1dpi","B_7dpi","B_14dpi","P_untr","P_1dmo","P_7dmo","P_14dmo","P_1dpi","P_7dpi","P_14dpi"],"paddingInner":0.16,"paddingOuter":0.08}},"xOffset":{"field":"method","type":"nominal","scale":{"domain":["RT-qPCR","RNA-seq"]}},"color":{"field":"method","type":"nominal","scale":{"domain":["RT-qPCR","RNA-seq"],"range":["#a3a3a3","#000000"]}}},
  "layer":[
   {"transform":[{"filter":"datum.mean>5"}],"mark":{"type":"bar","clip":true},"encoding":{"y":{"field":"mean","type":"quantitative","scale":{"domain":[5,400],"nice":false,"zero":false},"axis":{"values":[200,400],"title":null}},"y2":{"datum":0}}},
   {"transform":[{"filter":"datum.hi>5"}],"mark":{"type":"rule","clip":true},"encoding":{"y":{"field":"mean","type":"quantitative"},"y2":{"field":"hi"}}},
   {"transform":[{"filter":"datum.hi>5"}],"mark":{"type":"tick","clip":true,"thickness":1,"size":4,"opacity":1},"encoding":{"y":{"field":"hi","type":"quantitative"}}}]},
 {"width":205,"height":94,"data":{"name":"d"},"transform":[{"filter":"datum.gene==='Ma03_g03840'"}],
  "encoding":{"x":{"field":"cond","type":"nominal","axis":{"title":null,"labelAngle":-45},"scale":{"domain":["B_untr","B_1dmo","B_7dmo","B_14dmo","B_1dpi","B_7dpi","B_14dpi","P_untr","P_1dmo","P_7dmo","P_14dmo","P_1dpi","P_7dpi","P_14dpi"],"paddingInner":0.16,"paddingOuter":0.08}},"xOffset":{"field":"method","type":"nominal","scale":{"domain":["RT-qPCR","RNA-seq"]}},"color":{"field":"method","type":"nominal","scale":{"domain":["RT-qPCR","RNA-seq"],"range":["#a3a3a3","#000000"]}}},
  "layer":[
   {"mark":{"type":"bar","clip":true},"encoding":{"y":{"field":"mean","type":"quantitative","scale":{"domain":[0,5],"nice":false},"axis":{"values":[0,1,2,3,4,5],"tickCount":6,"labelOverlap":false,"title":"Relative expression","titleY":27}},"y2":{"datum":0}}},
   {"mark":{"type":"rule","clip":true},"encoding":{"y":{"field":"mean","type":"quantitative","axis":{"values":[0,1,2,3,4,5],"tickCount":6,"labelOverlap":false,"title":"Relative expression","titleY":27}},"y2":{"field":"hi"}}},
   {"mark":{"type":"tick","clip":true,"thickness":1,"size":4,"opacity":1},"encoding":{"y":{"field":"hi","type":"quantitative","axis":{"values":[0,1,2,3,4,5],"tickCount":6,"labelOverlap":false,"title":"Relative expression","titleY":27}}}}]}
 ],"spacing":10,"bounds":"flush"},
{"vconcat":[
 {"title":"Ma03_g08140, r=0.930","width":205,"height":30,"data":{"name":"d"},"transform":[{"filter":"datum.gene==='Ma03_g08140'"}],
  "encoding":{"x":{"field":"cond","type":"nominal","axis":null,"scale":{"domain":["B_untr","B_1dmo","B_7dmo","B_14dmo","B_1dpi","B_7dpi","B_14dpi","P_untr","P_1dmo","P_7dmo","P_14dmo","P_1dpi","P_7dpi","P_14dpi"],"paddingInner":0.16,"paddingOuter":0.08}},"xOffset":{"field":"method","type":"nominal","scale":{"domain":["RT-qPCR","RNA-seq"]}},"color":{"field":"method","type":"nominal","scale":{"domain":["RT-qPCR","RNA-seq"],"range":["#a3a3a3","#000000"]}}},
  "layer":[
   {"transform":[{"filter":"datum.mean>5"}],"mark":{"type":"bar","clip":true},"encoding":{"y":{"field":"mean","type":"quantitative","scale":{"domain":[5,50],"nice":false,"zero":false},"axis":{"values":[25,50],"title":null}},"y2":{"datum":0}}},
   {"transform":[{"filter":"datum.hi>5"}],"mark":{"type":"rule","clip":true},"encoding":{"y":{"field":"mean","type":"quantitative"},"y2":{"field":"hi"}}},
   {"transform":[{"filter":"datum.hi>5"}],"mark":{"type":"tick","clip":true,"thickness":1,"size":4,"opacity":1},"encoding":{"y":{"field":"hi","type":"quantitative"}}}]},
 {"width":205,"height":94,"data":{"name":"d"},"transform":[{"filter":"datum.gene==='Ma03_g08140'"}],
  "encoding":{"x":{"field":"cond","type":"nominal","axis":{"title":null,"labelAngle":-45},"scale":{"domain":["B_untr","B_1dmo","B_7dmo","B_14dmo","B_1dpi","B_7dpi","B_14dpi","P_untr","P_1dmo","P_7dmo","P_14dmo","P_1dpi","P_7dpi","P_14dpi"],"paddingInner":0.16,"paddingOuter":0.08}},"xOffset":{"field":"method","type":"nominal","scale":{"domain":["RT-qPCR","RNA-seq"]}},"color":{"field":"method","type":"nominal","scale":{"domain":["RT-qPCR","RNA-seq"],"range":["#a3a3a3","#000000"]}}},
  "layer":[
   {"mark":{"type":"bar","clip":true},"encoding":{"y":{"field":"mean","type":"quantitative","scale":{"domain":[0,5],"nice":false},"axis":{"values":[0,1,2,3,4,5],"tickCount":6,"labelOverlap":false,"title":"Relative expression","titleY":27}},"y2":{"datum":0}}},
   {"mark":{"type":"rule","clip":true},"encoding":{"y":{"field":"mean","type":"quantitative","axis":{"values":[0,1,2,3,4,5],"tickCount":6,"labelOverlap":false,"title":"Relative expression","titleY":27}},"y2":{"field":"hi"}}},
   {"mark":{"type":"tick","clip":true,"thickness":1,"size":4,"opacity":1},"encoding":{"y":{"field":"hi","type":"quantitative","axis":{"values":[0,1,2,3,4,5],"tickCount":6,"labelOverlap":false,"title":"Relative expression","titleY":27}}}}]}
 ],"spacing":10,"bounds":"flush"},
{"vconcat":[
 {"title":"Ma03_g11650, r=0.968","width":205,"height":30,"data":{"name":"d"},"transform":[{"filter":"datum.gene==='Ma03_g11650'"}],
  "encoding":{"x":{"field":"cond","type":"nominal","axis":null,"scale":{"domain":["B_untr","B_1dmo","B_7dmo","B_14dmo","B_1dpi","B_7dpi","B_14dpi","P_untr","P_1dmo","P_7dmo","P_14dmo","P_1dpi","P_7dpi","P_14dpi"],"paddingInner":0.16,"paddingOuter":0.08}},"xOffset":{"field":"method","type":"nominal","scale":{"domain":["RT-qPCR","RNA-seq"]}},"color":{"field":"method","type":"nominal","scale":{"domain":["RT-qPCR","RNA-seq"],"range":["#a3a3a3","#000000"]}}},
  "layer":[
   {"transform":[{"filter":"datum.mean>5"}],"mark":{"type":"bar","clip":true},"encoding":{"y":{"field":"mean","type":"quantitative","scale":{"domain":[5,100],"nice":false,"zero":false},"axis":{"values":[50,100],"title":null}},"y2":{"datum":0}}},
   {"transform":[{"filter":"datum.hi>5"}],"mark":{"type":"rule","clip":true},"encoding":{"y":{"field":"mean","type":"quantitative"},"y2":{"field":"hi"}}},
   {"transform":[{"filter":"datum.hi>5"}],"mark":{"type":"tick","clip":true,"thickness":1,"size":4,"opacity":1},"encoding":{"y":{"field":"hi","type":"quantitative"}}}]},
 {"width":205,"height":94,"data":{"name":"d"},"transform":[{"filter":"datum.gene==='Ma03_g11650'"}],
  "encoding":{"x":{"field":"cond","type":"nominal","axis":{"title":null,"labelAngle":-45},"scale":{"domain":["B_untr","B_1dmo","B_7dmo","B_14dmo","B_1dpi","B_7dpi","B_14dpi","P_untr","P_1dmo","P_7dmo","P_14dmo","P_1dpi","P_7dpi","P_14dpi"],"paddingInner":0.16,"paddingOuter":0.08}},"xOffset":{"field":"method","type":"nominal","scale":{"domain":["RT-qPCR","RNA-seq"]}},"color":{"field":"method","type":"nominal","scale":{"domain":["RT-qPCR","RNA-seq"],"range":["#a3a3a3","#000000"]}}},
  "layer":[
   {"mark":{"type":"bar","clip":true},"encoding":{"y":{"field":"mean","type":"quantitative","scale":{"domain":[0,5],"nice":false},"axis":{"values":[0,1,2,3,4,5],"tickCount":6,"labelOverlap":false,"title":"Relative expression","titleY":27}},"y2":{"datum":0}}},
   {"mark":{"type":"rule","clip":true},"encoding":{"y":{"field":"mean","type":"quantitative","axis":{"values":[0,1,2,3,4,5],"tickCount":6,"labelOverlap":false,"title":"Relative expression","titleY":27}},"y2":{"field":"hi"}}},
   {"mark":{"type":"tick","clip":true,"thickness":1,"size":4,"opacity":1},"encoding":{"y":{"field":"hi","type":"quantitative","axis":{"values":[0,1,2,3,4,5],"tickCount":6,"labelOverlap":false,"title":"Relative expression","titleY":27}}}}]}
 ],"spacing":10,"bounds":"flush"},
{"vconcat":[
 {"title":"Ma05_g26350, r=0.951","width":205,"height":30,"data":{"name":"d"},"transform":[{"filter":"datum.gene==='Ma05_g26350'"}],
  "encoding":{"x":{"field":"cond","type":"nominal","axis":null,"scale":{"domain":["B_untr","B_1dmo","B_7dmo","B_14dmo","B_1dpi","B_7dpi","B_14dpi","P_untr","P_1dmo","P_7dmo","P_14dmo","P_1dpi","P_7dpi","P_14dpi"],"paddingInner":0.16,"paddingOuter":0.08}},"xOffset":{"field":"method","type":"nominal","scale":{"domain":["RT-qPCR","RNA-seq"]}},"color":{"field":"method","type":"nominal","scale":{"domain":["RT-qPCR","RNA-seq"],"range":["#a3a3a3","#000000"]}}},
  "layer":[
   {"transform":[{"filter":"datum.mean>5"}],"mark":{"type":"bar","clip":true},"encoding":{"y":{"field":"mean","type":"quantitative","scale":{"domain":[5,150],"nice":false,"zero":false},"axis":{"values":[75,150],"title":null}},"y2":{"datum":0}}},
   {"transform":[{"filter":"datum.hi>5"}],"mark":{"type":"rule","clip":true},"encoding":{"y":{"field":"mean","type":"quantitative"},"y2":{"field":"hi"}}},
   {"transform":[{"filter":"datum.hi>5"}],"mark":{"type":"tick","clip":true,"thickness":1,"size":4,"opacity":1},"encoding":{"y":{"field":"hi","type":"quantitative"}}}]},
 {"width":205,"height":94,"data":{"name":"d"},"transform":[{"filter":"datum.gene==='Ma05_g26350'"}],
  "encoding":{"x":{"field":"cond","type":"nominal","axis":{"title":null,"labelAngle":-45},"scale":{"domain":["B_untr","B_1dmo","B_7dmo","B_14dmo","B_1dpi","B_7dpi","B_14dpi","P_untr","P_1dmo","P_7dmo","P_14dmo","P_1dpi","P_7dpi","P_14dpi"],"paddingInner":0.16,"paddingOuter":0.08}},"xOffset":{"field":"method","type":"nominal","scale":{"domain":["RT-qPCR","RNA-seq"]}},"color":{"field":"method","type":"nominal","scale":{"domain":["RT-qPCR","RNA-seq"],"range":["#a3a3a3","#000000"]}}},
  "layer":[
   {"mark":{"type":"bar","clip":true},"encoding":{"y":{"field":"mean","type":"quantitative","scale":{"domain":[0,5],"nice":false},"axis":{"values":[0,1,2,3,4,5],"tickCount":6,"labelOverlap":false,"title":"Relative expression","titleY":27}},"y2":{"datum":0}}},
   {"mark":{"type":"rule","clip":true},"encoding":{"y":{"field":"mean","type":"quantitative","axis":{"values":[0,1,2,3,4,5],"tickCount":6,"labelOverlap":false,"title":"Relative expression","titleY":27}},"y2":{"field":"hi"}}},
   {"mark":{"type":"tick","clip":true,"thickness":1,"size":4,"opacity":1},"encoding":{"y":{"field":"hi","type":"quantitative","axis":{"values":[0,1,2,3,4,5],"tickCount":6,"labelOverlap":false,"title":"Relative expression","titleY":27}}}}]}
 ],"spacing":10,"bounds":"flush"},
{"vconcat":[
 {"title":"Ma06_g10290, r=0.840","width":205,"height":30,"data":{"name":"d"},"transform":[{"filter":"datum.gene==='Ma06_g10290'"}],
  "encoding":{"x":{"field":"cond","type":"nominal","axis":null,"scale":{"domain":["B_untr","B_1dmo","B_7dmo","B_14dmo","B_1dpi","B_7dpi","B_14dpi","P_untr","P_1dmo","P_7dmo","P_14dmo","P_1dpi","P_7dpi","P_14dpi"],"paddingInner":0.16,"paddingOuter":0.08}},"xOffset":{"field":"method","type":"nominal","scale":{"domain":["RT-qPCR","RNA-seq"]}},"color":{"field":"method","type":"nominal","scale":{"domain":["RT-qPCR","RNA-seq"],"range":["#a3a3a3","#000000"]}}},
  "layer":[
   {"transform":[{"filter":"datum.mean>5"}],"mark":{"type":"bar","clip":true},"encoding":{"y":{"field":"mean","type":"quantitative","scale":{"domain":[5,20],"nice":false,"zero":false},"axis":{"values":[10,20],"title":null}},"y2":{"datum":0}}},
   {"transform":[{"filter":"datum.hi>5"}],"mark":{"type":"rule","clip":true},"encoding":{"y":{"field":"mean","type":"quantitative"},"y2":{"field":"hi"}}},
   {"transform":[{"filter":"datum.hi>5"}],"mark":{"type":"tick","clip":true,"thickness":1,"size":4,"opacity":1},"encoding":{"y":{"field":"hi","type":"quantitative"}}}]},
 {"width":205,"height":94,"data":{"name":"d"},"transform":[{"filter":"datum.gene==='Ma06_g10290'"}],
  "encoding":{"x":{"field":"cond","type":"nominal","axis":{"title":null,"labelAngle":-45},"scale":{"domain":["B_untr","B_1dmo","B_7dmo","B_14dmo","B_1dpi","B_7dpi","B_14dpi","P_untr","P_1dmo","P_7dmo","P_14dmo","P_1dpi","P_7dpi","P_14dpi"],"paddingInner":0.16,"paddingOuter":0.08}},"xOffset":{"field":"method","type":"nominal","scale":{"domain":["RT-qPCR","RNA-seq"]}},"color":{"field":"method","type":"nominal","scale":{"domain":["RT-qPCR","RNA-seq"],"range":["#a3a3a3","#000000"]}}},
  "layer":[
   {"mark":{"type":"bar","clip":true},"encoding":{"y":{"field":"mean","type":"quantitative","scale":{"domain":[0,5],"nice":false},"axis":{"values":[0,1,2,3,4,5],"tickCount":6,"labelOverlap":false,"title":"Relative expression","titleY":27}},"y2":{"datum":0}}},
   {"mark":{"type":"rule","clip":true},"encoding":{"y":{"field":"mean","type":"quantitative","axis":{"values":[0,1,2,3,4,5],"tickCount":6,"labelOverlap":false,"title":"Relative expression","titleY":27}},"y2":{"field":"hi"}}},
   {"mark":{"type":"tick","clip":true,"thickness":1,"size":4,"opacity":1},"encoding":{"y":{"field":"hi","type":"quantitative","axis":{"values":[0,1,2,3,4,5],"tickCount":6,"labelOverlap":false,"title":"Relative expression","titleY":27}}}}]}
 ],"spacing":10,"bounds":"flush"},
{"vconcat":[
 {"title":"Ma08_g28490, r=0.958","width":205,"height":30,"data":{"name":"d"},"transform":[{"filter":"datum.gene==='Ma08_g28490'"}],
  "encoding":{"x":{"field":"cond","type":"nominal","axis":null,"scale":{"domain":["B_untr","B_1dmo","B_7dmo","B_14dmo","B_1dpi","B_7dpi","B_14dpi","P_untr","P_1dmo","P_7dmo","P_14dmo","P_1dpi","P_7dpi","P_14dpi"],"paddingInner":0.16,"paddingOuter":0.08}},"xOffset":{"field":"method","type":"nominal","scale":{"domain":["RT-qPCR","RNA-seq"]}},"color":{"field":"method","type":"nominal","scale":{"domain":["RT-qPCR","RNA-seq"],"range":["#a3a3a3","#000000"]}}},
  "layer":[
   {"transform":[{"filter":"datum.mean>5"}],"mark":{"type":"bar","clip":true},"encoding":{"y":{"field":"mean","type":"quantitative","scale":{"domain":[5,80],"nice":false,"zero":false},"axis":{"values":[40,80],"title":null}},"y2":{"datum":0}}},
   {"transform":[{"filter":"datum.hi>5"}],"mark":{"type":"rule","clip":true},"encoding":{"y":{"field":"mean","type":"quantitative"},"y2":{"field":"hi"}}},
   {"transform":[{"filter":"datum.hi>5"}],"mark":{"type":"tick","clip":true,"thickness":1,"size":4,"opacity":1},"encoding":{"y":{"field":"hi","type":"quantitative"}}}]},
 {"width":205,"height":94,"data":{"name":"d"},"transform":[{"filter":"datum.gene==='Ma08_g28490'"}],
  "encoding":{"x":{"field":"cond","type":"nominal","axis":{"title":null,"labelAngle":-45},"scale":{"domain":["B_untr","B_1dmo","B_7dmo","B_14dmo","B_1dpi","B_7dpi","B_14dpi","P_untr","P_1dmo","P_7dmo","P_14dmo","P_1dpi","P_7dpi","P_14dpi"],"paddingInner":0.16,"paddingOuter":0.08}},"xOffset":{"field":"method","type":"nominal","scale":{"domain":["RT-qPCR","RNA-seq"]}},"color":{"field":"method","type":"nominal","scale":{"domain":["RT-qPCR","RNA-seq"],"range":["#a3a3a3","#000000"]}}},
  "layer":[
   {"mark":{"type":"bar","clip":true},"encoding":{"y":{"field":"mean","type":"quantitative","scale":{"domain":[0,5],"nice":false},"axis":{"values":[0,1,2,3,4,5],"tickCount":6,"labelOverlap":false,"title":"Relative expression","titleY":27}},"y2":{"datum":0}}},
   {"mark":{"type":"rule","clip":true},"encoding":{"y":{"field":"mean","type":"quantitative","axis":{"values":[0,1,2,3,4,5],"tickCount":6,"labelOverlap":false,"title":"Relative expression","titleY":27}},"y2":{"field":"hi"}}},
   {"mark":{"type":"tick","clip":true,"thickness":1,"size":4,"opacity":1},"encoding":{"y":{"field":"hi","type":"quantitative","axis":{"values":[0,1,2,3,4,5],"tickCount":6,"labelOverlap":false,"title":"Relative expression","titleY":27}}}}]}
 ],"spacing":10,"bounds":"flush"},
{"vconcat":[
 {"title":"Ma08_g34150, r=0.987","width":205,"height":30,"data":{"name":"d"},"transform":[{"filter":"datum.gene==='Ma08_g34150'"}],
  "encoding":{"x":{"field":"cond","type":"nominal","axis":null,"scale":{"domain":["B_untr","B_1dmo","B_7dmo","B_14dmo","B_1dpi","B_7dpi","B_14dpi","P_untr","P_1dmo","P_7dmo","P_14dmo","P_1dpi","P_7dpi","P_14dpi"],"paddingInner":0.16,"paddingOuter":0.08}},"xOffset":{"field":"method","type":"nominal","scale":{"domain":["RT-qPCR","RNA-seq"]}},"color":{"field":"method","type":"nominal","scale":{"domain":["RT-qPCR","RNA-seq"],"range":["#a3a3a3","#000000"]}}},
  "layer":[
   {"transform":[{"filter":"datum.mean>5"}],"mark":{"type":"bar","clip":true},"encoding":{"y":{"field":"mean","type":"quantitative","scale":{"domain":[5,150],"nice":false,"zero":false},"axis":{"values":[75,150],"title":null}},"y2":{"datum":0}}},
   {"transform":[{"filter":"datum.hi>5"}],"mark":{"type":"rule","clip":true},"encoding":{"y":{"field":"mean","type":"quantitative"},"y2":{"field":"hi"}}},
   {"transform":[{"filter":"datum.hi>5"}],"mark":{"type":"tick","clip":true,"thickness":1,"size":4,"opacity":1},"encoding":{"y":{"field":"hi","type":"quantitative"}}}]},
 {"width":205,"height":94,"data":{"name":"d"},"transform":[{"filter":"datum.gene==='Ma08_g34150'"}],
  "encoding":{"x":{"field":"cond","type":"nominal","axis":{"title":null,"labelAngle":-45},"scale":{"domain":["B_untr","B_1dmo","B_7dmo","B_14dmo","B_1dpi","B_7dpi","B_14dpi","P_untr","P_1dmo","P_7dmo","P_14dmo","P_1dpi","P_7dpi","P_14dpi"],"paddingInner":0.16,"paddingOuter":0.08}},"xOffset":{"field":"method","type":"nominal","scale":{"domain":["RT-qPCR","RNA-seq"]}},"color":{"field":"method","type":"nominal","scale":{"domain":["RT-qPCR","RNA-seq"],"range":["#a3a3a3","#000000"]}}},
  "layer":[
   {"mark":{"type":"bar","clip":true},"encoding":{"y":{"field":"mean","type":"quantitative","scale":{"domain":[0,5],"nice":false},"axis":{"values":[0,1,2,3,4,5],"tickCount":6,"labelOverlap":false,"title":"Relative expression","titleY":27}},"y2":{"datum":0}}},
   {"mark":{"type":"rule","clip":true},"encoding":{"y":{"field":"mean","type":"quantitative","axis":{"values":[0,1,2,3,4,5],"tickCount":6,"labelOverlap":false,"title":"Relative expression","titleY":27}},"y2":{"field":"hi"}}},
   {"mark":{"type":"tick","clip":true,"thickness":1,"size":4,"opacity":1},"encoding":{"y":{"field":"hi","type":"quantitative","axis":{"values":[0,1,2,3,4,5],"tickCount":6,"labelOverlap":false,"title":"Relative expression","titleY":27}}}}]}
 ],"spacing":10,"bounds":"flush"},
{"vconcat":[
 {"title":"Ma08_g34160, r=0.981","width":205,"height":30,"data":{"name":"d"},"transform":[{"filter":"datum.gene==='Ma08_g34160'"}],
  "encoding":{"x":{"field":"cond","type":"nominal","axis":null,"scale":{"domain":["B_untr","B_1dmo","B_7dmo","B_14dmo","B_1dpi","B_7dpi","B_14dpi","P_untr","P_1dmo","P_7dmo","P_14dmo","P_1dpi","P_7dpi","P_14dpi"],"paddingInner":0.16,"paddingOuter":0.08}},"xOffset":{"field":"method","type":"nominal","scale":{"domain":["RT-qPCR","RNA-seq"]}},"color":{"field":"method","type":"nominal","scale":{"domain":["RT-qPCR","RNA-seq"],"range":["#a3a3a3","#000000"]}}},
  "layer":[
   {"transform":[{"filter":"datum.mean>5"}],"mark":{"type":"bar","clip":true},"encoding":{"y":{"field":"mean","type":"quantitative","scale":{"domain":[5,80],"nice":false,"zero":false},"axis":{"values":[40,80],"title":null}},"y2":{"datum":0}}},
   {"transform":[{"filter":"datum.hi>5"}],"mark":{"type":"rule","clip":true},"encoding":{"y":{"field":"mean","type":"quantitative"},"y2":{"field":"hi"}}},
   {"transform":[{"filter":"datum.hi>5"}],"mark":{"type":"tick","clip":true,"thickness":1,"size":4,"opacity":1},"encoding":{"y":{"field":"hi","type":"quantitative"}}}]},
 {"width":205,"height":94,"data":{"name":"d"},"transform":[{"filter":"datum.gene==='Ma08_g34160'"}],
  "encoding":{"x":{"field":"cond","type":"nominal","axis":{"title":null,"labelAngle":-45},"scale":{"domain":["B_untr","B_1dmo","B_7dmo","B_14dmo","B_1dpi","B_7dpi","B_14dpi","P_untr","P_1dmo","P_7dmo","P_14dmo","P_1dpi","P_7dpi","P_14dpi"],"paddingInner":0.16,"paddingOuter":0.08}},"xOffset":{"field":"method","type":"nominal","scale":{"domain":["RT-qPCR","RNA-seq"]}},"color":{"field":"method","type":"nominal","scale":{"domain":["RT-qPCR","RNA-seq"],"range":["#a3a3a3","#000000"]}}},
  "layer":[
   {"mark":{"type":"bar","clip":true},"encoding":{"y":{"field":"mean","type":"quantitative","scale":{"domain":[0,5],"nice":false},"axis":{"values":[0,1,2,3,4,5],"tickCount":6,"labelOverlap":false,"title":"Relative expression","titleY":27}},"y2":{"datum":0}}},
   {"mark":{"type":"rule","clip":true},"encoding":{"y":{"field":"mean","type":"quantitative","axis":{"values":[0,1,2,3,4,5],"tickCount":6,"labelOverlap":false,"title":"Relative expression","titleY":27}},"y2":{"field":"hi"}}},
   {"mark":{"type":"tick","clip":true,"thickness":1,"size":4,"opacity":1},"encoding":{"y":{"field":"hi","type":"quantitative","axis":{"values":[0,1,2,3,4,5],"tickCount":6,"labelOverlap":false,"title":"Relative expression","titleY":27}}}}]}
 ],"spacing":10,"bounds":"flush"},
{"vconcat":[
 {"title":"Ma08_g34740, r=0.964","width":205,"height":30,"data":{"name":"d"},"transform":[{"filter":"datum.gene==='Ma08_g34740'"}],
  "encoding":{"x":{"field":"cond","type":"nominal","axis":null,"scale":{"domain":["B_untr","B_1dmo","B_7dmo","B_14dmo","B_1dpi","B_7dpi","B_14dpi","P_untr","P_1dmo","P_7dmo","P_14dmo","P_1dpi","P_7dpi","P_14dpi"],"paddingInner":0.16,"paddingOuter":0.08}},"xOffset":{"field":"method","type":"nominal","scale":{"domain":["RT-qPCR","RNA-seq"]}},"color":{"field":"method","type":"nominal","scale":{"domain":["RT-qPCR","RNA-seq"],"range":["#a3a3a3","#000000"]}}},
  "layer":[
   {"transform":[{"filter":"datum.mean>5"}],"mark":{"type":"bar","clip":true},"encoding":{"y":{"field":"mean","type":"quantitative","scale":{"domain":[5,300],"nice":false,"zero":false},"axis":{"values":[150,300],"title":null}},"y2":{"datum":0}}},
   {"transform":[{"filter":"datum.hi>5"}],"mark":{"type":"rule","clip":true},"encoding":{"y":{"field":"mean","type":"quantitative"},"y2":{"field":"hi"}}},
   {"transform":[{"filter":"datum.hi>5"}],"mark":{"type":"tick","clip":true,"thickness":1,"size":4,"opacity":1},"encoding":{"y":{"field":"hi","type":"quantitative"}}}]},
 {"width":205,"height":94,"data":{"name":"d"},"transform":[{"filter":"datum.gene==='Ma08_g34740'"}],
  "encoding":{"x":{"field":"cond","type":"nominal","axis":{"title":null,"labelAngle":-45},"scale":{"domain":["B_untr","B_1dmo","B_7dmo","B_14dmo","B_1dpi","B_7dpi","B_14dpi","P_untr","P_1dmo","P_7dmo","P_14dmo","P_1dpi","P_7dpi","P_14dpi"],"paddingInner":0.16,"paddingOuter":0.08}},"xOffset":{"field":"method","type":"nominal","scale":{"domain":["RT-qPCR","RNA-seq"]}},"color":{"field":"method","type":"nominal","scale":{"domain":["RT-qPCR","RNA-seq"],"range":["#a3a3a3","#000000"]}}},
  "layer":[
   {"mark":{"type":"bar","clip":true},"encoding":{"y":{"field":"mean","type":"quantitative","scale":{"domain":[0,5],"nice":false},"axis":{"values":[0,1,2,3,4,5],"tickCount":6,"labelOverlap":false,"title":"Relative expression","titleY":27}},"y2":{"datum":0}}},
   {"mark":{"type":"rule","clip":true},"encoding":{"y":{"field":"mean","type":"quantitative","axis":{"values":[0,1,2,3,4,5],"tickCount":6,"labelOverlap":false,"title":"Relative expression","titleY":27}},"y2":{"field":"hi"}}},
   {"mark":{"type":"tick","clip":true,"thickness":1,"size":4,"opacity":1},"encoding":{"y":{"field":"hi","type":"quantitative","axis":{"values":[0,1,2,3,4,5],"tickCount":6,"labelOverlap":false,"title":"Relative expression","titleY":27}}}}]}
 ],"spacing":10,"bounds":"flush"}
],
"config":{
 "font":"Liberation Sans",
 "view":{"stroke":null},
 "axis":{"labelFontWeight":"bold","labelFontSize":11,"labelColor":"#000","labelOverlap":false,"domainColor":"#000","domainWidth":1.5,"tickColor":"#000","tickWidth":1.5,"tickSize":4,"grid":false,"titleFontWeight":"bold","titleFontSize":11,"titleColor":"#000","labelPadding":2,"titlePadding":4},
 "axisX":{"labelFontSize":11,"labelPadding":0,"tickSize":3},
 "title":{"fontSize":13,"fontWeight":"bold","color":"#000","frame":"group","offset":0},
 "legend":{"labelFont":"Liberation Sans","labelColor":"#000"}
}
}
